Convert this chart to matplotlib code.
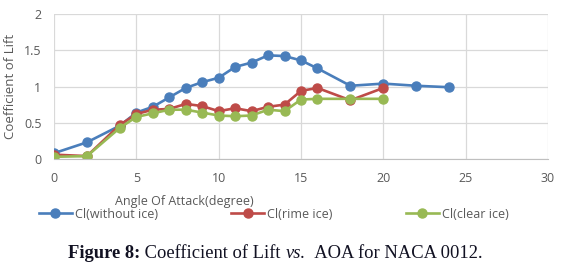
import matplotlib.pyplot as plt

# angle of attack (deg) and lift coefficients
aoa_clean = [0, 2, 4, 5, 6, 7, 8, 9, 10, 11, 12, 13, 14, 15, 16, 18, 20, 22, 24]
cl_clean = [0.08, 0.23, 0.46, 0.64, 0.72, 0.85, 0.98, 1.06, 1.12, 1.27, 1.33,
            1.43, 1.42, 1.36, 1.25, 1.01, 1.04, 1.01, 0.99]

aoa_ice = [0, 2, 4, 5, 6, 7, 8, 9, 10, 11, 12, 13, 14, 15, 16, 18, 20]
cl_rime = [0.06, 0.04, 0.47, 0.62, 0.68, 0.69, 0.76, 0.73, 0.66, 0.70, 0.66,
           0.72, 0.75, 0.94, 0.98, 0.81, 0.98]
cl_clear = [0.03, 0.04, 0.43, 0.58, 0.63, 0.68, 0.68, 0.64, 0.60, 0.59, 0.60,
            0.68, 0.66, 0.82, 0.83, 0.83, 0.83]

series_labels = ["Cl(without ice)", "Cl(rime ice)", "Cl(clear ice)"]
caption_bold = "Figure 8:"
caption_rest = " Coefficient of Lift "
caption_vs = "vs."
caption_end = "  AOA for NACA 0012."

plt.rcParams["font.family"] = ["Open Sans", "DejaVu Sans"]
txt = "#595959"

fig = plt.figure(figsize=(5.7, 2.74), dpi=100)
ax = fig.add_axes([54 / 570, 115 / 274, 494 / 570, 145 / 274])

ax.plot(aoa_clean, cl_clean, color="#4a7ebb", lw=1.9, marker="o", ms=6.5,
        label=series_labels[0])
ax.plot(aoa_ice, cl_rime, color="#be4b48", lw=1.9, marker="o", ms=6.5,
        label=series_labels[1])
ax.plot(aoa_ice, cl_clear, color="#98b954", lw=1.9, marker="o", ms=6.5,
        label=series_labels[2])

ax.set_xlim(0, 30)
ax.set_ylim(0, 2)
ax.set_xticks(range(0, 31, 5))
ax.set_yticks([0, 0.5, 1, 1.5, 2])
ax.set_yticklabels(["0", "0.5", "1", "1.5", "2"])
ax.grid(True, color="#d9d9d9", lw=0.9)
ax.set_axisbelow(True)
for s in ["top", "right", "left"]:
    ax.spines[s].set_visible(False)
ax.spines["bottom"].set_color("#bfbfbf")
ax.tick_params(axis="x", length=0, labelsize=9, labelcolor=txt, pad=9)
ax.tick_params(axis="y", length=0, labelsize=9, labelcolor=txt, pad=9)
ax.set_xlabel("Angle Of Attack(degree)", fontsize=9, color=txt)
ax.xaxis.set_label_coords(0.263, -0.245)
ax.set_ylabel("Coefficient of Lift", fontsize=9.5, color=txt)
ax.yaxis.set_label_coords(-0.074, 0.5)

leg = fig.legend(loc="center left", bbox_to_anchor=(39 / 570, 1 - 214 / 274), ncol=3,
                 frameon=False, fontsize=9, handlelength=2.6, columnspacing=5.9,
                 handletextpad=0.25, borderpad=0, borderaxespad=0)
for t in leg.get_texts():
    t.set_color(txt)

# caption with mixed styles, pieces placed one after another
fig.canvas.draw()
r = fig.canvas.get_renderer()
x = 68 / 570
y = 1 - 253 / 274
pieces = [(caption_bold, "bold", "normal"), (caption_rest, "normal", "normal"),
          (caption_vs, "normal", "italic"), (caption_end, "normal", "normal")]
for s, w, st in pieces:
    t = fig.text(x, y, s, family="Liberation Serif", fontsize=13.3, weight=w,
                 style=st, va="center", ha="left", color="#111122")
    bb = t.get_window_extent(r)
    x += bb.width / fig.bbox.width

fig.savefig("out.png", dpi=100)
